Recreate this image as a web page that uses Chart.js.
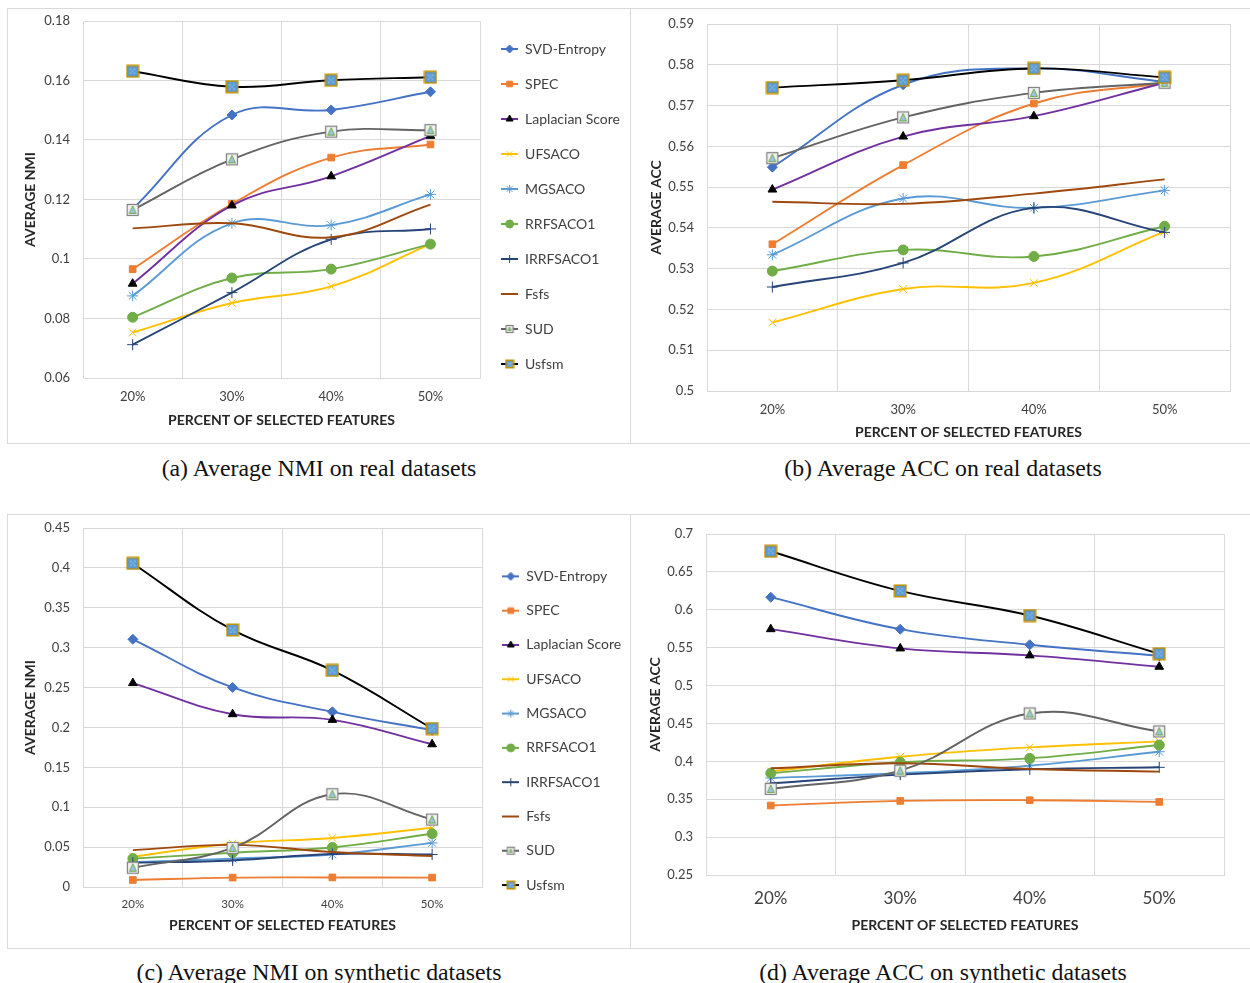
<!DOCTYPE html>
<html>
<head>
<meta charset="utf-8">
<script src="https://cdn.jsdelivr.net/npm/chart.js@4.4.0/dist/chart.umd.min.js"></script>
<style>
body { margin: 0; background: #fff; width: 1250px; height: 983px; position: relative; overflow: hidden; }
.box { position: absolute; border: 1px solid #dadada; box-sizing: border-box; }
canvas { position: absolute; }
.cap { position: absolute; width: 620px; text-align: center; font-family: "Liberation Serif", serif; font-size: 23.8px; line-height: 24px; color: #111; }
</style>
</head>
<body>
<div class="box" style="left:7px;top:8px;width:624px;height:436px"></div>
<div class="box" style="left:630px;top:8px;width:625px;height:436px"></div>
<div class="box" style="left:7px;top:514px;width:624px;height:435px"></div>
<div class="box" style="left:630px;top:514px;width:625px;height:435px"></div>

<canvas id="nmiRealChart" width="623" height="435" style="left:7px;top:8px"></canvas>
<canvas id="accRealChart" width="619" height="435" style="left:631px;top:8px"></canvas>
<canvas id="nmiSynthChart" width="623" height="433" style="left:7px;top:515px"></canvas>
<canvas id="accSynthChart" width="619" height="433" style="left:631px;top:515px"></canvas>

<div class="cap" style="left:9px;top:456px">(a) Average NMI on real datasets</div>
<div class="cap" style="left:633px;top:456px">(b) Average ACC on real datasets</div>
<div class="cap" style="left:9px;top:960px">(c) Average NMI on synthetic datasets</div>
<div class="cap" style="left:633px;top:960px">(d) Average ACC on synthetic datasets</div>

<script>
const categories = ['20%', '30%', '40%', '50%'];
const methods = ['SVD-Entropy', 'SPEC', 'Laplacian Score', 'UFSACO', 'MGSACO', 'RRFSACO1', 'IRRFSACO1', 'Fsfs', 'SUD', 'Usfsm'];

// one row per method, same order as methods
const nmiReal = [
    [0.1168, 0.1484, 0.1501, 0.1562],
    [0.0966, 0.1185, 0.1341, 0.1385],
    [0.0917, 0.1180, 0.1278, 0.1414],
    [0.0753, 0.0852, 0.0908, 0.1050],
    [0.0876, 0.1120, 0.1114, 0.1217],
    [0.0804, 0.0936, 0.0966, 0.1050],
    [0.0712, 0.0887, 0.1066, 0.1101],
    [0.1103, 0.1120, 0.1073, 0.1183],
    [0.1165, 0.1335, 0.1428, 0.1433],
    [0.1631, 0.1579, 0.1601, 0.1611]
];
const accReal = [
    [0.5549, 0.5751, 0.5791, 0.5758],
    [0.5360, 0.5554, 0.5705, 0.5756],
    [0.5494, 0.5624, 0.5674, 0.5756],
    [0.5168, 0.5250, 0.5265, 0.5391],
    [0.5334, 0.5472, 0.5449, 0.5492],
    [0.5294, 0.5346, 0.5330, 0.5404],
    [0.5255, 0.5314, 0.5449, 0.5389],
    [0.5464, 0.5459, 0.5484, 0.5519],
    [0.5571, 0.5671, 0.5731, 0.5756],
    [0.5744, 0.5762, 0.5791, 0.5769]
];
const nmiSynth = [
    [0.3105, 0.2501, 0.2196, 0.1965],
    [0.0088, 0.0118, 0.0120, 0.0118],
    [0.2556, 0.2166, 0.2095, 0.1789],
    [0.0380, 0.0545, 0.0615, 0.0742],
    [0.0310, 0.0356, 0.0407, 0.0553],
    [0.0356, 0.0430, 0.0496, 0.0668],
    [0.0303, 0.0333, 0.0413, 0.0407],
    [0.0462, 0.0528, 0.0439, 0.0388],
    [0.0242, 0.0490, 0.1163, 0.0846],
    [0.4056, 0.3222, 0.2715, 0.1986]
];
const accSynth = [
    [0.6166, 0.5744, 0.5538, 0.5393],
    [0.3417, 0.3478, 0.3487, 0.3465],
    [0.5744, 0.5490, 0.5398, 0.5248],
    [0.3868, 0.4061, 0.4184, 0.4263],
    [0.3780, 0.3842, 0.3943, 0.4127],
    [0.3842, 0.3987, 0.4039, 0.4215],
    [0.3710, 0.3825, 0.3895, 0.3921],
    [0.3908, 0.3974, 0.3899, 0.3864],
    [0.3636, 0.3877, 0.4632, 0.4395],
    [0.6772, 0.6249, 0.5924, 0.5420]
];

const ticksNmiReal = [0.06, 0.08, 0.1, 0.12, 0.14, 0.16, 0.18];
const ticksAccReal = [0.5, 0.51, 0.52, 0.53, 0.54, 0.55, 0.56, 0.57, 0.58, 0.59];
const ticksNmiSynth = [0, 0.05, 0.1, 0.15, 0.2, 0.25, 0.3, 0.35, 0.4, 0.45];
const ticksAccSynth = [0.25, 0.3, 0.35, 0.4, 0.45, 0.5, 0.55, 0.6, 0.65, 0.7];

const FONT = 'Lato, "Open Sans", sans-serif';
const xTitle = 'PERCENT OF SELECTED FEATURES';

function sudMarker(s) {
    const c = document.createElement('canvas');
    c.width = s; c.height = s;
    const g = c.getContext('2d');
    g.fillStyle = '#f2f2f2';
    g.fillRect(1, 1, s - 2, s - 2);
    g.strokeStyle = '#7f7f7f';
    g.lineWidth = 1.2;
    g.strokeRect(1.5, 1.5, s - 3, s - 3);
    g.beginPath();
    g.moveTo(s / 2, 3); g.lineTo(s - 3.5, s - 3.5); g.lineTo(3.5, s - 3.5); g.closePath();
    g.fillStyle = '#9dc3e6'; g.fill();
    g.strokeStyle = '#70ad47'; g.lineWidth = 1; g.stroke();
    return c;
}

function usfsmMarker(s) {
    const c = document.createElement('canvas');
    c.width = s; c.height = s;
    const g = c.getContext('2d');
    g.fillStyle = '#5b9bd5';
    g.fillRect(1, 1, s - 2, s - 2);
    g.strokeStyle = '#bf9000';
    g.lineWidth = 1.6;
    g.strokeRect(1.3, 1.3, s - 2.6, s - 2.6);
    g.fillStyle = '#deebf7';
    [[0.35, 0.35], [0.65, 0.35], [0.5, 0.5], [0.35, 0.65], [0.65, 0.65]].forEach(p => {
        g.fillRect(Math.round(p[0] * s) - 0.5, Math.round(p[1] * s) - 0.5, 1, 1);
    });
    return c;
}

const lineColors = ['#4472c4', '#ed7d31', '#7030a0', '#ffc000', '#5b9bd5', '#70ad47', '#264478', '#9e480e', '#636363', '#000000'];
const markerFill = ['#4472c4', '#ed7d31', '#000000', '#ffc000', '#5b9bd5', '#70ad47', '#264478', '#9e480e', '#636363', '#000000'];
const markerStyles = ['rectRot', 'rect', 'triangle', 'crossRot', 'star', 'circle', 'cross', 'circle', sudMarker(14), usfsmMarker(14)];
const markerSizes = [5, 4.7, 5, 5.5, 5.5, 5, 5.5, 0, 6, 6];

function legendIcon(i) {
    const c = document.createElement('canvas');
    c.width = 17; c.height = 12;
    const g = c.getContext('2d');
    g.strokeStyle = lineColors[i];
    g.lineWidth = 2;
    g.beginPath(); g.moveTo(0, 6); g.lineTo(17, 6); g.stroke();
    if (i == 8) {
        g.drawImage(sudMarker(10), 3.5, 1);
    } else if (i == 9) {
        g.drawImage(usfsmMarker(10), 3.5, 1);
    } else if (i == 7) {
        g.fillStyle = lineColors[i];
        g.fillRect(7, 5, 3, 2);
    } else {
        g.fillStyle = markerFill[i];
        g.strokeStyle = markerFill[i];
        g.lineWidth = 1;
        Chart.helpers.drawPoint(g, { pointStyle: markerStyles[i], radius: 4, rotation: 0, borderWidth: 1 }, 8.5, 6);
    }
    return c;
}
const legendIcons = methods.map((m, i) => legendIcon(i));

function drawPanel(id, values, yTicks, yLabel, cfg) {
    const datasets = methods.map((name, i) => ({
        label: name,
        data: values[i],
        borderColor: lineColors[i],
        backgroundColor: markerFill[i],
        pointStyle: markerStyles[i],
        pointRadius: markerSizes[i],
        pointBackgroundColor: markerFill[i],
        pointBorderColor: markerFill[i],
        pointBorderWidth: 1,
        borderWidth: 1.9,
        tension: 0.4,
        order: methods.length - i
    }));
    new Chart(document.getElementById(id), {
        type: 'line',
        data: { labels: categories, datasets: datasets },
        options: {
            responsive: false,
            animation: false,
            layout: { padding: cfg.padding },
            plugins: {
                tooltip: { enabled: false },
                legend: {
                    display: cfg.legend,
                    position: 'right',
                    align: cfg.legendAlign || 'start',
                    maxWidth: cfg.legendWidth,
                    labels: {
                        usePointStyle: true,
                        pointStyleWidth: 17,
                        padding: cfg.legendPad || 21,
                        font: { family: FONT, size: 14 },
                        color: '#404040',
                        generateLabels: chart => chart.data.datasets.map((ds, i) => ({
                            text: ds.label,
                            pointStyle: legendIcons[i],
                            datasetIndex: i,
                            hidden: false,
                            fillStyle: 'rgba(0,0,0,0)',
                            strokeStyle: 'rgba(0,0,0,0)',
                            lineWidth: 0,
                            fontColor: '#404040'
                        }))
                    }
                }
            },
            scales: {
                x: {
                    offset: true,
                    grid: { offset: true, color: '#d9d9d9', drawTicks: false },
                    border: { color: '#d9d9d9' },
                    ticks: { padding: cfg.xTickPad, color: '#404040', font: { family: FONT, size: cfg.xTickSize } },
                    title: { display: true, text: xTitle, color: '#262626', padding: { top: 0, bottom: cfg.xTitlePad }, font: { family: FONT, size: 14, weight: 'bold' } },
                    afterFit: s => { s.height = cfg.xHeight; s.paddingLeft = 0; s.paddingRight = 0; }
                },
                y: {
                    min: yTicks[0],
                    max: yTicks[yTicks.length - 1],
                    grid: { color: '#d9d9d9', drawTicks: false },
                    border: { color: '#d9d9d9' },
                    afterBuildTicks: s => { s.ticks = yTicks.map(v => ({ value: v })); },
                    ticks: { padding: 13, color: '#404040', font: { family: FONT, size: 13 }, callback: v => String(v) },
                    title: { display: true, text: yLabel, color: '#262626', padding: { top: cfg.yTitlePad, bottom: 0 }, font: { family: FONT, size: 14, weight: 'bold' } },
                    afterFit: s => { s.width = cfg.yWidth; s.paddingTop = 0; s.paddingBottom = 0; }
                }
            }
        }
    });
}

drawPanel('nmiRealChart', nmiReal, ticksNmiReal, 'AVERAGE NMI', {
    padding: { left: 10, top: 13, right: 0, bottom: 10 },
    legend: true, legendAlign: 'start', legendPad: 21, legendWidth: 150,
    yWidth: 66, yTitlePad: 5, xHeight: 55, xTitlePad: 4, xTickPad: 11, xTickSize: 13
});
drawPanel('accRealChart', accReal, ticksAccReal, 'AVERAGE ACC', {
    padding: { left: 12, top: 16, right: 20, bottom: 2 },
    legend: false,
    yWidth: 64, yTitlePad: 4.6, xHeight: 50, xTitlePad: 0, xTickPad: 11, xTickSize: 13
});
drawPanel('nmiSynthChart', nmiSynth, ticksNmiSynth, 'AVERAGE NMI', {
    padding: { left: 10, top: 13, right: 0, bottom: 14.6 },
    legend: true, legendAlign: 'center', legendPad: 20.3, legendWidth: 148,
    yWidth: 66, yTitlePad: 5, xHeight: 46.4, xTitlePad: 0, xTickPad: 10.4, xTickSize: 11.5
});
drawPanel('accSynthChart', accSynth, ticksAccSynth, 'AVERAGE ACC', {
    padding: { left: 12, top: 19, right: 26, bottom: 14.6 },
    legend: false,
    yWidth: 63, yTitlePad: 3.6, xHeight: 58.4, xTitlePad: 0, xTickPad: 13.8, xTickSize: 17
});
</script>
</body>
</html>
